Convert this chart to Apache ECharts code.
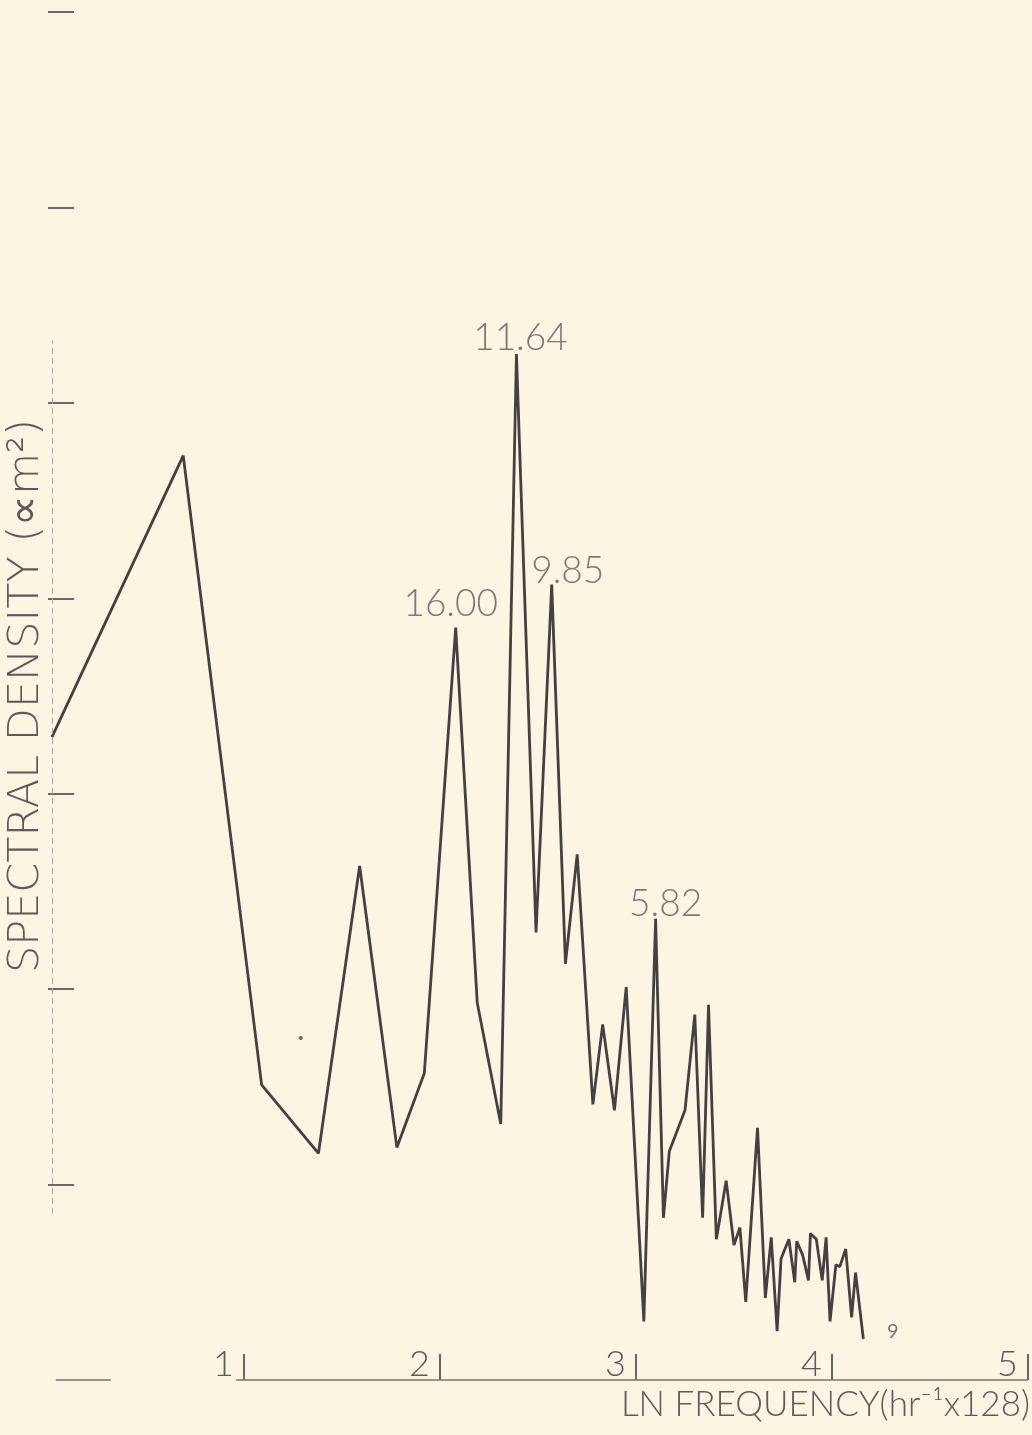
<!DOCTYPE html>
<html>
<head>
<meta charset="utf-8">
<title>Spectral density</title>
<script src="https://cdn.jsdelivr.net/npm/echarts@6/dist/echarts.min.js"></script>
<style>
html, body { margin: 0; padding: 0; background: #fbf5e2; }
#main { width: 1032px; height: 1435px; }
</style>
</head>
<body>
<div id="main"></div>
<script>
// ln frequency and spectral density
const lnFreq = [0.02, 0.69, 1.09, 1.38, 1.59, 1.78, 1.92, 2.08, 2.19, 2.31,
    2.39, 2.49, 2.57, 2.64, 2.70, 2.78, 2.83, 2.89, 2.95, 3.04,
    3.10, 3.14, 3.17, 3.25, 3.30, 3.34, 3.37, 3.41, 3.46, 3.50,
    3.53, 3.56, 3.62, 3.66, 3.69, 3.72, 3.74, 3.78, 3.81, 3.82,
    3.85, 3.88, 3.89, 3.92, 3.95, 3.97, 3.99, 4.02, 4.04, 4.07,
    4.10, 4.12, 4.16];
const density = [3.29, 4.73, 1.51, 1.16, 2.63, 1.19, 1.57, 3.85, 1.93, 1.31,
    5.25, 2.29, 4.07, 2.13, 2.69, 1.41, 1.82, 1.38, 2.01, 0.30,
    2.36, 0.83, 1.17, 1.38, 1.87, 0.83, 1.92, 0.72, 1.02, 0.69,
    0.78, 0.40, 1.29, 0.42, 0.73, 0.25, 0.62, 0.72, 0.50, 0.71,
    0.64, 0.51, 0.75, 0.72, 0.51, 0.73, 0.30, 0.59, 0.58, 0.67,
    0.32, 0.55, 0.21];

// labelled peaks (index into the arrays above) and their period text
const peakIndex = [7, 10, 12, 20];
const peakText = ['16.00', '11.64', '9.85', '5.82'];

const xTicks = [1, 2, 3, 4, 5];
const yTicks = [1, 2, 3, 4, 5, 6, 7];
const strayDot = [[1.29, 1.75]];

// the drawn axis lines are broken in the original
const baselineSpans = [[0.04, 0.32], [0.96, 5.0]];
const yAxisSpan = [0.85, 5.32];

const ink = '#463f43';
const textInk = '#5e595c';
const font = 'Lato';

const labelNudge = [[-5, 0], [4, 8], [16, 10], [10, 9]];

const myChart = echarts.init(document.getElementById('main'));

const lineData = lnFreq.map((x, i) => [x, density[i]]);
const peakData = peakIndex.map((idx, i) => ({
    value: [lnFreq[idx], density[idx]],
    label: { formatter: peakText[i], offset: labelNudge[i] }
}));

const option = {
    backgroundColor: '#fbf5e2',
    animation: false,
    grid: { left: 48, right: 4, top: 12, bottom: 55, outerBoundsMode: 'none' },
    xAxis: {
        type: 'value',
        min: 0,
        max: 5,
        interval: 1,
        splitLine: { show: false },
        axisLine: { show: false },
        axisTick: {
            show: true,
            inside: true,
            length: 26,
            customValues: xTicks,
            lineStyle: { color: '#6b6669', width: 2 }
        },
        axisLabel: {
            inside: true,
            customValues: xTicks,
            margin: -2,
            align: 'right',
            padding: [0, 10, 0, 0],
            fontFamily: font,
            fontWeight: 300,
            fontSize: 36,
            color: textInk
        },
        name: 'LN FREQUENCY(hr⁻¹x128)',
        nameLocation: 'end',
        nameGap: 2,
        nameTextStyle: {
            align: 'right',
            verticalAlign: 'top',
            padding: [7, 0, 0, 0],
            fontFamily: font,
            fontWeight: 300,
            fontSize: 35,
            color: textInk
        }
    },
    yAxis: {
        type: 'value',
        min: 0,
        max: 7,
        interval: 1,
        splitLine: { show: false },
        axisLine: { show: false },
        axisTick: {
            show: true,
            inside: true,
            length: 26,
            customValues: yTicks,
            lineStyle: { color: '#6b6669', width: 2 }
        },
        axisLabel: { show: false },
        name: 'SPECTRAL DENSITY (∝m²)',
        nameLocation: 'middle',
        nameRotate: 90,
        nameGap: 0,
        nameTextStyle: {
            fontFamily: 'DejaVu Sans',
            fontWeight: 200,
            fontSize: 43,
            color: textInk
        }
    },
    series: [
        {
            type: 'line',
            data: lineData,
            symbol: 'none',
            lineStyle: { color: ink, width: 2.8 },
            markLine: {
                silent: true,
                symbol: 'none',
                label: { show: false },
                lineStyle: { color: '#777275', width: 1.5, type: 'solid' },
                data: baselineSpans.map(s => [{ coord: [s[0], 0] }, { coord: [s[1], 0] }])
                    .concat([[
                        { coord: [0.02, yAxisSpan[0]], lineStyle: { type: [6, 4], color: '#aaa5a6', width: 1 } },
                        { coord: [0.02, yAxisSpan[1]] }
                    ]])
            }
        },
        {
            type: 'scatter',
            data: peakData,
            symbolSize: 0,
            label: {
                show: true,
                position: 'top',
                distance: 5,
                fontFamily: font,
                fontWeight: 300,
                fontSize: 37,
                color: textInk
            }
        },
        {
            type: 'scatter',
            data: strayDot,
            symbolSize: 4,
            itemStyle: { color: ink }
        }
    ],
    graphic: [
        {
            type: 'text',
            left: 887,
            top: 1322,
            style: { text: '9', fontFamily: font, fontSize: 20, fill: '#7a7578' }
        }
    ]
};

myChart.setOption(option);
</script>
</body>
</html>
